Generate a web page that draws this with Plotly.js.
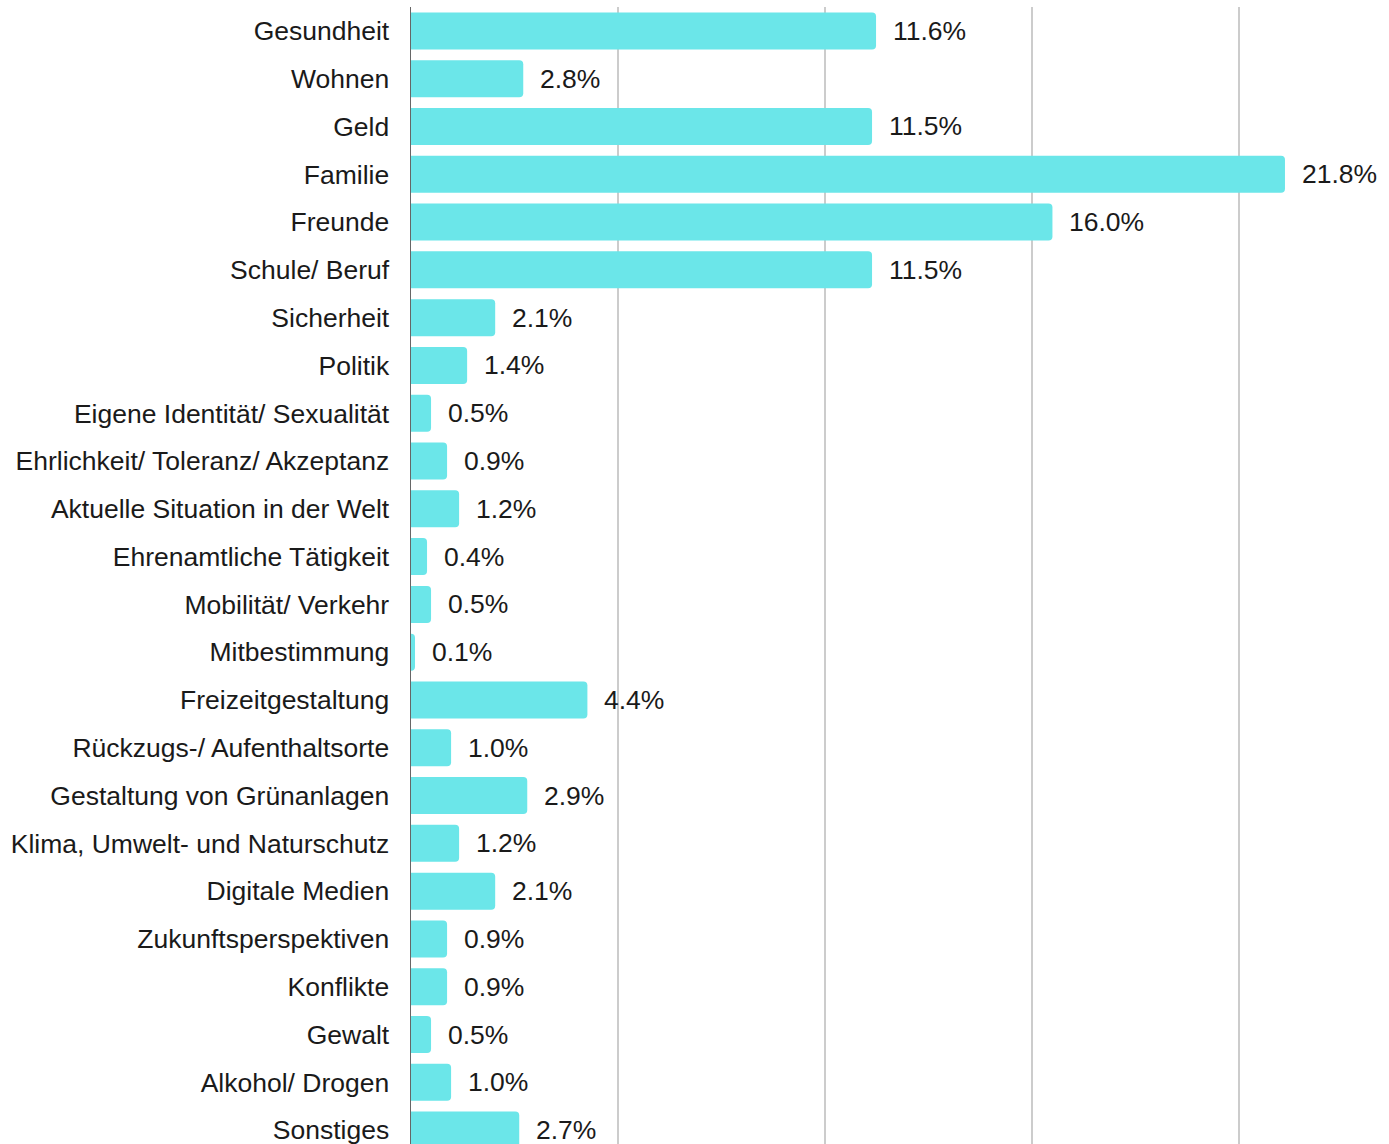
<!DOCTYPE html>
<html>
<head>
<meta charset="utf-8">
<script src="https://cdn.plot.ly/plotly-3.0.1.min.js"></script>
<style>
html,body{margin:0;padding:0;background:#fff;overflow:hidden;}
#chart{width:1389px;height:1154px;}
</style>
</head>
<body>
<div id="chart"></div>
<script>
const categories = [
  "Gesundheit","Wohnen","Geld","Familie","Freunde","Schule/ Beruf","Sicherheit","Politik",
  "Eigene Identität/ Sexualität","Ehrlichkeit/ Toleranz/ Akzeptanz","Aktuelle Situation in der Welt",
  "Ehrenamtliche Tätigkeit","Mobilität/ Verkehr","Mitbestimmung","Freizeitgestaltung",
  "Rückzugs-/ Aufenthaltsorte","Gestaltung von Grünanlagen","Klima, Umwelt- und Naturschutz",
  "Digitale Medien","Zukunftsperspektiven","Konflikte","Gewalt","Alkohol/ Drogen","Sonstiges"
];
const values = [11.6,2.8,11.5,21.8,16.0,11.5,2.1,1.4,0.5,0.9,1.2,0.4,0.5,0.1,4.4,1.0,2.9,1.2,2.1,0.9,0.9,0.5,1.0,2.7];
const valueLabels = values.map(v => v.toFixed(1) + "%");

const font = {family: "Liberation Sans, Arial, sans-serif", size: 26.5, color: "#1a1a1a"};

const trace = {
  type: "bar",
  orientation: "h",
  x: values,
  y: categories,
  marker: {color: "#6be6e9", cornerradius: 4},
  hoverinfo: "x+y"
};

const annotations = values.map((v, i) => ({
  x: v, y: categories[i], xref: "x", yref: "y",
  text: valueLabels[i], showarrow: false,
  xanchor: "left", xshift: 15, font: font
}));

const layout = {
  width: 1389, height: 1154,
  margin: {l: 411, r: 0, t: 7, b: 0, pad: 0},
  paper_bgcolor: "#ffffff", plot_bgcolor: "#ffffff",
  font: font,
  showlegend: false,
  bargap: 0.225,
  xaxis: {
    range: [0, 24.395],
    tick0: 0, dtick: 5.163,
    showticklabels: false,
    showgrid: true, gridcolor: "#cccccc", gridwidth: 2,
    zeroline: false, showline: false, ticks: "", fixedrange: true
  },
  yaxis: {
    autorange: "reversed",
    showgrid: false, zeroline: false,
    showline: true, linecolor: "#666666", linewidth: 1.5,
    ticks: "outside", ticklen: 15, tickcolor: "rgba(0,0,0,0)",
    tickfont: font, fixedrange: true
  },
  annotations: annotations
};

Plotly.newPlot("chart", [trace], layout, {displayModeBar: false, staticPlot: true});
</script>
</body>
</html>
